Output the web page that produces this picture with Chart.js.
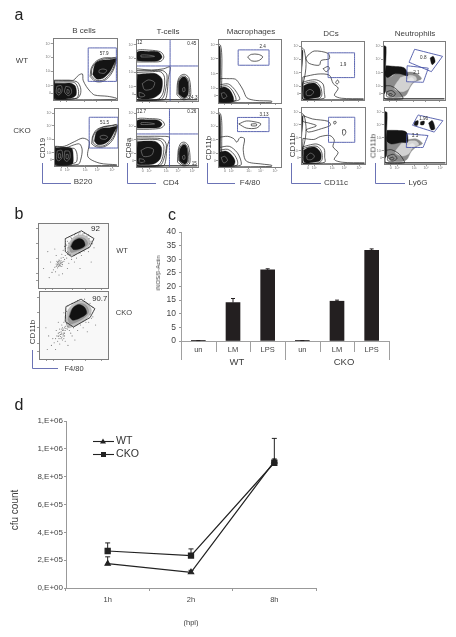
<!DOCTYPE html>
<html><head><meta charset="utf-8">
<style>
html,body{margin:0;padding:0;background:#fff;width:456px;height:637px;overflow:hidden}
canvas{position:absolute}
.t{position:absolute;font-family:"Liberation Sans",Arial,sans-serif;color:#3c3c3c;white-space:nowrap;transform:translate(-50%,-50%);z-index:2}
.flat{will-change:transform}
svg{position:absolute;left:0;top:0}
</style>
<script src="https://cdn.jsdelivr.net/npm/chart.js@4/dist/chart.umd.js"></script>
</head><body>
<svg width="456" height="637" id="arrows"></svg>
<script>
/* ---------- panel c ---------- */
const inosCategories=["un","LM","LPS","un","LM","LPS"];
const inosValues=[0.05,14.1,26.1,0.05,14.6,33.3];
const inosErrorTops=[0.15,15.6,26.5,0.15,15.0,33.8];
const inosTicks=[0,5,10,15,20,25,30,35,40];
/* ---------- panel d ---------- */
const cfuHours=["1h","2h","8h"];
const cfuWT=[175000,113000,910000];
const cfuWTTops=[224000,127000,927000];
const cfuCKO=[266000,233000,900000];
const cfuCKOTops=[324000,281000,1075000];
const cfuTickLabels=["0,E+00","2,E+05","4,E+05","6,E+05","8,E+05","1,E+06","1,E+06"];
/* ---------- flow tick labels ---------- */
const flowTickStops=[11,23,46,69,91];
const flowXTickStops=[11,21,49,68,91];
const flowYLabels=["0","10²","10³","10⁴","10⁵"];
const flowXLabels=["0","10²","10³","10⁴","10⁵"];

/* ---------- a: B cells ---------- */
const bCellWTGates=[[55,30,99,30,99,84,55,84]];
const bCellWTLines=[[58,38,66,30,78,30,88,38,95,50,99,68,92,68,80,68,68,63,60,52],[60,39,67,32,78,32,87,40,94,51,98,67,91,67,79,66,68,61,61,51],[2,32,25,32,32,32,40,40,46,42,47,32,52,22,58,14,65,8,85,6,99,3,99,1,2,1],[2,31,28,31,38,29,43,20,43,10,38,3,2,2],[2,29,30,29,36,26,40,14,37,3,2,2]];
const bCellWTBlack=[[62,41,68,34,78,35,87,43,93,53,98,66,88,65,76,64,66,59],[2,27,14,27,28,27,35,22,36,8,28,3,2,3]];
const bCellWTWhite=[[72,44,80,43,84,48,78,50,72,48],[6,22,13,23,14,14,9,8,5,12],[20,22,27,20,29,12,24,7,18,13],[8,18,11,18,11,12,8,12],[22,17,25,16,25,11,22,11]];
const bCellCKOGates=[[55,31,100,31,100,84,55,84]];
const bCellCKOLines=[[59,38,66,33,78,33,88,40,95,52,99,71,90,70,78,68,66,62,60,50],[61,40,67,35,78,35,87,42,94,53,98,70,89,69,77,67,67,61,61,50],[2,34,16,34,32,42,45,48,55,42,53,16,71,5,98,2,98,1,2,1],[2,33,20,32,30,36,40,38,44,28,42,12,38,3,2,2],[2,31,22,30,32,30,36,20,34,6,2,3]];
const bCellCKOBlack=[[63,43,68,37,78,38,87,45,93,56,98,68,87,66,75,65,66,58],[2,31,27,31,30,16,28,3,2,3]];
const bCellCKOWhite=[[73,47,80,46,84,50,78,53,72,51],[5,26,12,27,13,16,8,9,4,12],[17,26,24,25,25,14,20,8,16,12],[7,21,10,21,10,14,7,14],[19,20,22,20,22,13,19,13]];
/* ---------- a: T cells ---------- */
const tCellWTGates=[[55,0,55,56.5],[0,56.5,100,56.5],[55,56.5,55,100]];
const tCellWTLines=[[1,63,22,63,40,64,45,71,40,79,22,82,1,81],[1,52,25,50,45,52,55,55,52,35,50,12,46,2,1,2],[1,49,25,49,43,49,50,42,47,15,41,3,1,2],[1,46,22,47,40,47,46,38,44,14,36,3,1,2],[66,10,67,30,71,40,78,43,85,38,88,22,87,6,76,2],[68,12,68,30,73,39,79,40,84,34,86,20,85,8,76,4],[1,2,99,2]];
const tCellWTBlack=[[2,65,20,64,36,65,42,71,36,79,20,80,2,79],[2,43,15,44,32,44,42,35,40,14,28,5,10,3,2,6],[69,11,69,30,74,38,80,38,84,30,84,11,78,5]];
const tCellWTWhite=[[8,71,20,71,30,72,20,74,8,74],[10,28,20,34,30,30,26,20,14,18],[5,14,12,12,14,8,6,7],[75,20,78,22,79,16,76,15]];
const tCellCKOGates=[[54,0,54,56],[0,56,100,56],[54,56,54,100]];
const tCellCKOLines=[[1,64,22,64,40,66,46,72,40,80,22,82,1,81],[1,52,20,52,40,52,54,50,50,34,48,12,44,2,1,2],[1,49,25,49,43,47,49,37,45,14,39,3,1,2],[1,46,22,47,39,45,45,35,42,13,35,3,1,2],[67,8,68,28,72,40,78,42,84,37,87,20,86,5,76,2],[69,11,69,28,74,38,79,39,83,33,85,18,84,7,76,4],[1,2,99,2]];
const tCellCKOBlack=[[2,66,20,66,37,67,42,73,36,79,20,80,2,79],[2,43,15,44,32,43,41,33,39,14,28,5,10,4,2,6],[70,10,70,28,75,37,80,37,83,28,83,9,78,5]];
const tCellCKOWhite=[[8,72,20,72,30,73,20,75,8,75],[8,28,18,33,28,30,25,20,12,18],[5,14,12,13,14,9,6,8],[75,18,78,20,79,14,76,13]];
/* ---------- a: macrophages ---------- */
const macWTGates=[[32,59,81,59,81,83,32,83]];
const macWTLines=[[47,72,53,76,64,76,71,72,64,66,53,66],[1,3,1,36,18,38,28,37,34,30,40,20,46,8,60,4,85,3,85,1,1,1],[1,28,15,30,22,26,30,16,34,5,1,2],[1,25,13,27,20,23,26,14,28,4,1,2],[0,8,5,20,6,50,6,75,4,90,0,92]];
const macWTBlack=[[0,12,3,20,4,50,4,70,3,88,0,90],[1,23,10,25,18,21,24,10,24,2,1,2]];
const macWTWhite=[[5,15,10,16,14,10,8,7]];
const macCKOGates=[[31,60,81,60,81,84,31,84]];
const macCKOLines=[[33,73,45,78,61,76,68,73,61,66,45,66],[53,73,61,73,61,70,53,70],[1,50,15,52,25,48,30,42,35,50,42,48,40,30,45,10,70,5,85,3,85,1,1,1],[1,33,18,35,30,25,36,12,36,3,1,2],[1,28,15,30,25,22,31,10,30,3,1,2],[0,8,5,20,6,50,6,75,4,90,0,92]];
const macCKOBlack=[[0,12,3,20,4,50,4,70,3,88,0,90],[1,25,12,27,21,21,27,10,24,2,1,2]];
const macCKOWhite=[[5,16,11,18,15,11,9,7]];
/* ---------- a: DCs ---------- */
const dcWTGates=[[43,38,85,38,85,80,43,80]];
const dcWTLines=[[11,76,21,83,43,79,45,70,32,67,29,59,13,62,8,70],[35,53,43,57,45,53,40,48],[3,39,27,44,45,42,51,28,59,20,53,8,64,3,99,2,99,1,3,1],[3,30,12,33,25,34,35,27,37,12,37,3,3,1],[3,27,12,30,24,30,31,22,33,8,28,2,3,2],[55,30,58,34,60,30,57,27],[0,20,5,35,8,60,5,85,1,88]];
const dcWTBlack=[[4,24,12,28,23,28,30,19,30,6,20,3,5,3],[0,40,2,60,3,82,2,85,0,85]];
const dcWTWhite=[[8,14,14,18,20,14,16,8,9,8]];
const dcCKOGates=[[43,38,84,38,84,82,43,82]];
const dcCKOLines=[[3,85,18,79,42,75,46,68,32,62,12,56,8,60,24,67,12,72,3,75],[51,74,54,75,55,72,52,70],[65,60,69,60,70,55,67,50,65,53],[3,45,20,43,30,48,45,50,52,42,50,30,58,20,52,8,65,3,99,2,99,1,3,1],[3,30,12,33,25,35,36,27,37,12,37,3,3,1],[3,27,12,30,25,31,32,22,33,8,28,2,3,2],[0,20,5,35,8,60,5,85,1,88]];
const dcCKOBlack=[[4,24,12,29,23,29,31,19,30,6,20,3,5,3],[0,40,2,60,3,80,2,84,0,84]];
const dcCKOWhite=[[9,14,15,19,21,14,17,8,10,8]];
/* ---------- a: neutrophils ---------- */
const neutWTGates=[[51,86,96,74,78,48,42,64],[39,58,73,54,65,30,38,31]];
const neutWTBlack=[[5,58,18,57,35,54,40,41,29,44,18,44,8,38,3,43],[0,8,4,15,4,50,5,90,2,92,0,92],[76,71,81,74,84,65,79,60]];
const neutWTMid=[[3,42,10,38,20,44,35,47,52,46,62,36,50,30,44,22,36,7,20,4,8,8,3,20]];
const neutWTLight=[[28,38,40,42,52,40,54,34,46,28,40,18,30,14,18,20]];
const neutWTWhite=[[38,34,46,38,50,34,44,30]];
const neutWTLines=[[3,24,12,24,22,18,30,8,32,2,3,2],[6,14,14,16,20,10,14,5,6,6],[9,10,13,11,15,9,11,7],[1,2,99,2]];
const neutCKOGates=[[55,86,95,76,81,56,46,68],[37,53,71,50,63,29,36,29]];
const neutCKOBlack=[[5,59,20,59,36,56,38,38,28,38,12,35,4,41],[0,8,4,15,4,50,5,90,2,92,0,92],[49,74,55,76,54,68,49,68],[59,74,65,75,64,69,59,69],[72,72,78,76,82,62,76,60]];
const neutCKOMid=[[3,40,10,35,20,40,35,42,52,44,62,36,52,30,44,22,36,7,20,4,8,8,3,20]];
const neutCKOLight=[[28,36,40,40,52,40,56,34,46,28,40,18,30,14,18,20]];
const neutCKOWhite=[[38,32,46,36,50,32,44,28]];
const neutCKOLines=[[3,24,12,25,24,18,31,8,33,2,3,2],[6,14,15,17,21,10,15,5,6,6],[9,10,14,12,16,9,11,7],[1,2,99,2]];
/* ---------- b: CD11b / F4/80 ---------- */
const bWTGates=[[39,76,62,88,80,76,74,63,48,48,39,56,39,76]];
const bWTHalo=[[42,60,46,72,56,81,68,80,75,70,68,60,54,52,44,50],[45,62,49,72,58,78,67,76,71,68,65,61,54,56,47,55]];
const bWTCore=[[47,64,51,72,59,76,65,73,67,65,59,60,51,59]];
const bWTDots=[28,36,30,40,32,38,29,33,33,42,27,41,31,35,35,36,26,37,34,33,30,43,33,46,36,47,24,32,22,28,25,25,20,24,38,44,41,46,37,41,42,52,39,50,44,55,73,76,76,72,78,68,72,82,66,84,60,85,54,84,47,78,42,72,38,64,36,58,34,52,72,56,62,50,55,46,48,44,80,62,16,16,30,20,42,30,14,56,24,60,60,30,76,40,35,22,18,40,44,38,52,40,8,30,26,50,29,38,31,37,30,36,32,40,28,39,33,37,27,35,30,34,32,34,29,41,31,42,34,39,35,40,26,33,28,31,43,62,41,66,44,69,48,76,52,82,58,83,64,83,70,80,74,68,72,62,66,57,60,54,52,50,46,52,42,56];
const bCKOGates=[[39,77,61,88,81,74,74,61,50,47,38,55,39,77]];
const bCKOHalo=[[39,56,42,72,54,84,68,84,76,72,70,60,54,50,42,46],[42,58,46,72,56,81,67,80,72,70,66,61,54,54,45,52]];
const bCKOCore=[[44,62,49,75,58,80,66,76,69,67,59,60,49,57]];
const bCKODots=[30,44,32,40,34,46,28,38,31,36,36,42,26,34,33,32,29,30,37,38,24,30,35,36,38,48,40,52,27,26,22,24,25,42,20,30,34,28,41,44,44,42,46,38,36,54,33,50,18,20,30,22,38,26,48,34,56,42,64,46,72,54,78,62,78,76,74,82,66,88,56,86,48,82,42,78,36,68,14,34,12,14,24,14,52,28,70,40,82,50,42,20,10,46,28,54,32,36,33,38,35,34,31,33,30,39,36,38,38,42,37,46,34,42,33,44,29,35,28,33,35,44,39,45,42,48,44,50,32,30,37,34,36,30,76,60,74,66,40,70,38,62,50,46,60,50,68,54];

/* ---------- fixed text ---------- */
const fontFamily='"Liberation Sans",Arial,sans-serif';
const panelLetters=[["a",19,15],["b",19,214],["c",172,215],["d",19,405]];
const cellTitles=[["B cells",84,30],["T-cells",168,31],["Macrophages",251,31],["DCs",331,33],["Neutrophils",415,33]];
const rowNames=[["WT",22,60],["CKO",22,130]];
const axisY=[["CD19",42,148],["CD8a",128,148],["CD11b",208,148],["CD11b",292,145],["CD11b",373,146]];
const axisX=[["B220",83,181],["CD4",171,182],["F4/80",250,182],["CD11c",336,182],["Ly6G",418,182]];

function addText(s,x,y,size,rot,color){const d=document.createElement('div');d.className=rot?'t':'t flat';d.textContent=s;d.style.left=x+'px';d.style.top=y+'px';d.style.fontSize=size+'px';if(rot)d.style.transform='translate(-50%,-50%) rotate(-90deg)';if(color)d.style.color=color;document.body.appendChild(d);}
panelLetters.forEach(a=>addText(a[0],a[1],a[2],16,false,'#222'));
cellTitles.forEach(a=>addText(a[0],a[1],a[2],8));
rowNames.forEach(a=>addText(a[0],a[1],a[2],8));
axisY.forEach(a=>addText(a[0],a[1],a[2],8,true));
axisX.forEach(a=>addText(a[0],a[1],a[2],8));
addText("WT",122,250,7.5);addText("CKO",124,312,7.5);addText("CD11b",32,332,8,true);addText("F4/80",74,368,7.5);
addText("iNOS/β-Actin",158,273,6,true);addText("WT",237,361,9.5);addText("CKO",344,361,9.5);
addText("cfu count",14,510,10,true);addText("(hpi)",191,622,7.5);

/* arrows */
const arrowCorners=[[42,163,183,71],[127,163,183,156],[207,163,183,235],[291,163,183,321],[375,163,183,405],[32,350,368,58]];
document.getElementById('arrows').innerHTML=arrowCorners.map(a=>{const[x,t,b,r]=a;return `<path d="M${x}.5 ${t}V${b}.5H${r}" fill="none" stroke="#5a63ad" stroke-width="0.9"/><path d="M${x-1.5}.5 ${t+1}L${x}.5 ${t-2}L${x+1.5}.5 ${t+1}Z M${r-1} ${b-1}L${r+2} ${b}.5L${r-1} ${b+2}Z" fill="#3f4a9c"/>`}).join('');

function toPts(f){const p=[];for(let i=0;i<f.length;i+=2)p.push({x:f[i],y:f[i+1]});return p;}
function closeLoop(f){const p=toPts(f);p.push({...p[0]});return p;}
function shape(f,fill,tension){return{data:closeLoop(f),fill:'shape',backgroundColor:fill,borderColor:fill,borderWidth:0.4,tension,pointRadius:0};}
function outline(f,color,w,tension,closed){return{data:closed?closeLoop(f):toPts(f),fill:false,borderColor:color,borderWidth:w,tension,pointRadius:0};}

const flowFrame={id:'flowFrame',
 beforeDatasetsDraw(c,a,o){const{left,top,width,height}=c.chartArea;c.ctx.save();c.ctx.fillStyle=o.bg;c.ctx.fillRect(left,top,width,height);c.ctx.restore();},
 afterDatasetsDraw(c,a,o){const{left,top,width,height}=c.chartArea,x=c.ctx;x.save();x.strokeStyle='#7d7d7d';x.lineWidth=1;x.strokeRect(left+.5,top+.5,width,height);
  x.fillStyle='#2e2e2e';x.textAlign='center';x.textBaseline='middle';x.font=o.textSize+'px '+fontFamily;
  o.texts.forEach(t=>x.fillText(t[0],c.scales.x.getPixelForValue(t[1]),c.scales.y.getPixelForValue(t[2])));x.restore();}};

function flowPlot(frame,d){
 const[l,t,r,b]=frame,mL=9,mT=4,mR=4,mB=9;
 const cv=document.createElement('canvas');cv.width=r-l+mL+mR;cv.height=b-t+mT+mB;cv.style.left=(l-mL)+'px';cv.style.top=(t-mT)+'px';document.body.appendChild(cv);
 const ds=[];
 (d.halo||[]).forEach(f=>ds.push(shape(f,'rgba(70,70,70,.32)',0.35)));
 (d.mid||[]).forEach(f=>ds.push(shape(f,'#8b8b8b',0.3)));
 (d.light||[]).forEach(f=>ds.push(shape(f,'#d2d2d2',0.3)));
 if(d.dots)ds.push({data:toPts(d.dots),showLine:false,pointRadius:0.55,pointBackgroundColor:'#777',pointBorderWidth:0});
 (d.black||[]).forEach(f=>ds.push(shape(f,d.core||'#141414',0.3)));
 (d.white||[]).forEach(f=>ds.push(d.fillWhite?shape(f,'#e6e6e6',0.3):outline(f,'#b5b5b5',0.45,0.3,true)));
 (d.lines||[]).forEach(f=>ds.push(outline(f,'#1c1c1c',0.7,f.length>4?0.3:0,true)));
 (d.gates||[]).forEach(f=>ds.push(outline(f,d.gateColor||'#4a55a8',0.9,0.0001,f.length>4&&!d.openGates)));
 ds.reverse();
 new Chart(cv,{type:'line',data:{datasets:ds},plugins:[flowFrame],options:{responsive:false,animation:false,events:[],
  layout:{padding:{top:mT,right:mR}},
  plugins:{legend:{display:false},tooltip:{enabled:false},flowFrame:{bg:d.bg||'#fff',texts:d.texts||[],textSize:d.textSize||4.6}},
  scales:{
   x:{type:'linear',min:0,max:100,afterBuildTicks:a=>{a.ticks=flowXTickStops.map(v=>({value:v}))},afterFit:a=>{a.height=mB},
      grid:{drawOnChartArea:false,tickLength:2,color:'#555',lineWidth:.6},border:{display:false},
      ticks:{display:!!d.xLabels,maxRotation:0,autoSkip:false,padding:0,color:'#777',font:{size:3.6,family:fontFamily},callback:(v,i)=>flowXLabels[i]}},
   y:{type:'linear',min:0,max:100,afterBuildTicks:a=>{a.ticks=flowTickStops.map(v=>({value:v}))},afterFit:a=>{a.width=mL},
      grid:{drawOnChartArea:false,tickLength:2,color:'#555',lineWidth:.6},border:{display:false},
      ticks:{display:!d.noYLabels,autoSkip:false,padding:0,color:'#777',font:{size:3.6,family:fontFamily},callback:(v,i)=>flowYLabels[i]}}
  }}});
}

flowPlot([53,38,117,100],{gates:bCellWTGates,lines:bCellWTLines,black:bCellWTBlack,white:bCellWTWhite,texts:[["57.9",80,74]]});
flowPlot([54,108,118,166],{gates:bCellCKOGates,lines:bCellCKOLines,black:bCellCKOBlack,white:bCellCKOWhite,texts:[["51.5",79,74]],xLabels:true});
flowPlot([136,39,198,101],{gates:tCellWTGates,lines:tCellWTLines,black:tCellWTBlack,white:tCellWTWhite,openGates:true,texts:[["12",6,94],["0.45",90,93],["14.3",92,5]]});
flowPlot([136,108,198,167],{gates:tCellCKOGates,lines:tCellCKOLines,black:tCellCKOBlack,white:tCellCKOWhite,openGates:true,texts:[["12.7",9,94],["0.26",90,93],["15",94,5],["15.5",8,5]],xLabels:true});
flowPlot([218,39,281,103],{gates:macWTGates,lines:macWTLines,black:macWTBlack,white:macWTWhite,texts:[["2.4",71,88]]});
flowPlot([218,108,281,167],{gates:macCKOGates,lines:macCKOLines,black:macCKOBlack,white:macCKOWhite,texts:[["3.13",73,88]],xLabels:true});
flowPlot([301,41,364,100],{gates:dcWTGates,lines:dcWTLines,black:dcWTBlack,white:dcWTWhite,texts:[["1.9",67,60]]});
flowPlot([301,107,365,164],{gates:dcCKOGates,lines:dcCKOLines,black:dcCKOBlack,white:dcCKOWhite,xLabels:true});
flowPlot([383,41,445,100],{gates:neutWTGates,black:neutWTBlack,mid:neutWTMid,light:neutWTLight,white:neutWTWhite,fillWhite:true,lines:neutWTLines,texts:[["0.8",65,71],["2.1",54,47]]});
flowPlot([384,107,446,164],{gates:neutCKOGates,black:neutCKOBlack,mid:neutCKOMid,light:neutCKOLight,white:neutCKOWhite,fillWhite:true,lines:neutCKOLines,texts:[["1.96",64,80],["3.3",50,49]],xLabels:true});
flowPlot([38,223,108,288],{bg:'#f8f8f8',core:'#111',gateColor:'#222',noYLabels:true,gates:bWTGates,halo:bWTHalo,black:bWTCore,dots:bWTDots,texts:[["92",82,91]],textSize:8});
flowPlot([39,291,108,359],{bg:'#f8f8f8',core:'#111',gateColor:'#222',noYLabels:true,gates:bCKOGates,halo:bCKOHalo,black:bCKOCore,dots:bCKODots,texts:[["90.7",88,89]],textSize:7.7});

/* ---------- shared error bars ---------- */
const errorBars={id:'errorBars',afterDatasetsDraw(c,a,o){const x=c.ctx;x.save();x.strokeStyle=o.color;x.lineWidth=o.width;
 o.series.forEach(s=>s.values.forEach((v,i)=>{const px=c.scales.x.getPixelForValue(i),y0=c.scales.y.getPixelForValue(v),y1=c.scales.y.getPixelForValue(s.tops[i]);
  x.beginPath();x.moveTo(px,y0);x.lineTo(px,y1);x.moveTo(px-o.cap,y1);x.lineTo(px+o.cap,y1);x.stroke();}));x.restore();}};

/* ---------- panel c ---------- */
const boundaryDrops=[19,11,11,19,11,11,19];
const groupTicks={id:'groupTicks',afterDraw(c){const s=c.scales.x,x=c.ctx,w=(s.right-s.left)/inosCategories.length;x.save();x.strokeStyle='#a0a0a0';x.lineWidth=1;
 boundaryDrops.forEach((d,i)=>{const p=Math.round(s.left+i*w)+.5;x.beginPath();x.moveTo(p,s.top);x.lineTo(p,s.top+d);x.stroke();});x.restore();}};
const cv=document.createElement('canvas');cv.width=260;cv.height=150;cv.style.left='140px';cv.style.top='222px';document.body.appendChild(cv);
new Chart(cv,{type:'bar',data:{labels:inosCategories,datasets:[{data:inosValues,backgroundColor:'#231f20',barThickness:14}]},
 plugins:[errorBars,groupTicks],options:{responsive:false,animation:false,events:[],layout:{padding:{top:10,right:11}},
 plugins:{legend:{display:false},tooltip:{enabled:false},errorBars:{series:[{values:inosValues,tops:inosErrorTops}],color:'#231f20',width:1,cap:2}},
 scales:{x:{grid:{display:false,drawTicks:false},border:{color:'#a0a0a0'},afterFit:a=>{a.height=31},ticks:{padding:4,color:'#444',font:{size:7.5,family:fontFamily},maxRotation:0}},
  y:{min:0,max:40,afterBuildTicks:a=>{a.ticks=inosTicks.map(v=>({value:v}))},afterFit:a=>{a.width=41},grid:{drawOnChartArea:false,tickLength:2,color:'#999'},border:{color:'#a0a0a0'},ticks:{padding:3,color:'#444',font:{size:8.5,family:fontFamily}}}}}});

/* ---------- panel d ---------- */
const legendRows=[["WT",441],["CKO",454]];
const cfuLegend={id:'cfuLegend',afterDatasetsDraw(c){const x=c.ctx;x.save();
 c.data.datasets.forEach((d,i)=>{const y=legendRows[i][1];x.strokeStyle='#222';x.lineWidth=1.1;x.beginPath();x.moveTo(93,y-410+.5);x.lineTo(114,y-410+.5);x.stroke();
  x.fillStyle='#222';if(i===0){x.beginPath();x.moveTo(103,y-410-2.5);x.lineTo(106,y-410+2.5);x.lineTo(100,y-410+2.5);x.closePath();x.fill();}else{x.fillRect(101,y-410-2,5,5);}
  x.fillStyle='#333';x.font='10.6px '+fontFamily;x.textBaseline='middle';x.textAlign='left';x.fillText(legendRows[i][0],116,y-410+.5);});x.restore();}};
const cd=document.createElement('canvas');cd.width=330;cd.height=200;cd.style.left='0px';cd.style.top='410px';document.body.appendChild(cd);
new Chart(cd,{type:'line',data:{labels:cfuHours,datasets:[
  {label:"WT",data:cfuWT,borderColor:'#222',backgroundColor:'#222',borderWidth:1.2,pointStyle:'triangle',pointRadius:3,tension:0},
  {label:"CKO",data:cfuCKO,borderColor:'#222',backgroundColor:'#222',borderWidth:1.2,pointStyle:'rect',pointRadius:3.6,tension:0}]},
 plugins:[errorBars,cfuLegend],options:{responsive:false,animation:false,events:[],layout:{padding:{top:11,right:14}},
 plugins:{legend:{display:false},tooltip:{enabled:false},errorBars:{series:[{values:cfuWT,tops:cfuWTTops},{values:cfuCKO,tops:cfuCKOTops}],color:'#222',width:1,cap:2.5}},
 scales:{x:{offset:true,grid:{offset:true,drawOnChartArea:false,tickLength:3,color:'#999'},border:{color:'#999'},afterFit:a=>{a.height=22},ticks:{padding:4,color:'#444',font:{size:7.5,family:fontFamily},maxRotation:0}},
  y:{min:0,max:1200000,afterBuildTicks:a=>{a.ticks=cfuTickLabels.map((s,i)=>({value:i*200000}))},afterFit:a=>{a.width=66},grid:{drawOnChartArea:false,tickLength:2,color:'#999'},border:{color:'#999'},ticks:{padding:1,color:'#444',font:{size:8,family:fontFamily},callback:(v,i)=>cfuTickLabels[i]}}}}});
</script>
</body></html>
